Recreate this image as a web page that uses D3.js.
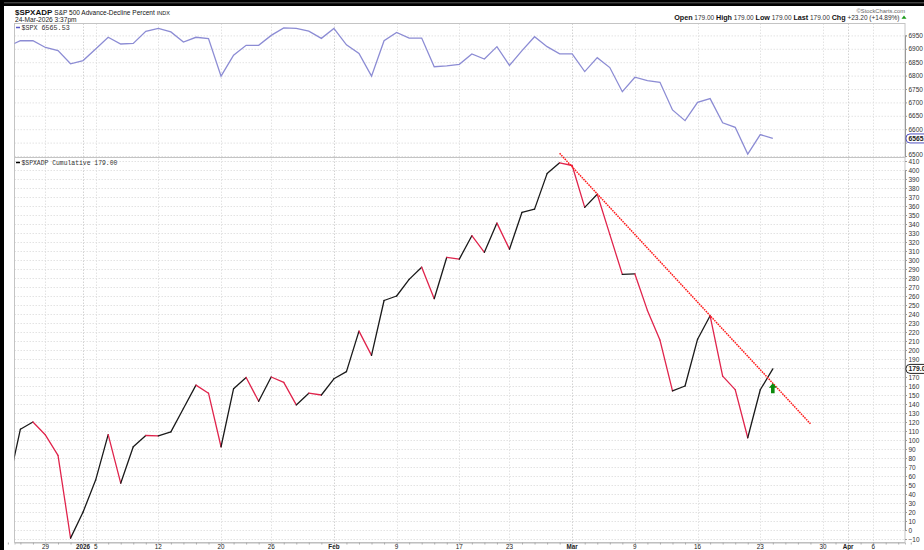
<!DOCTYPE html>
<html>
<head>
<meta charset="utf-8">
<script src="https://cdn.jsdelivr.net/npm/d3@7"></script>
<style>
  body { margin: 0; background: #fff; }
  svg { display: block; font-family: "Liberation Sans", Arial, sans-serif; }
</style>
</head>
<body>
<div id="chart"></div>
<script>
// trading days shown on the axis (holidays skipped)
const days = [
  "Dec 23","Dec 24","Dec 26","Dec 29","Dec 30","Dec 31",
  "Jan 2","Jan 5","Jan 6","Jan 7","Jan 8","Jan 9","Jan 12","Jan 13","Jan 14","Jan 15","Jan 16",
  "Jan 20","Jan 21","Jan 22","Jan 23","Jan 26","Jan 27","Jan 28","Jan 29","Jan 30",
  "Feb 2","Feb 3","Feb 4","Feb 5","Feb 6","Feb 9","Feb 10","Feb 11","Feb 12","Feb 13",
  "Feb 17","Feb 18","Feb 19","Feb 20","Feb 23","Feb 24","Feb 25","Feb 26","Feb 27",
  "Mar 2","Mar 3","Mar 4","Mar 5","Mar 6","Mar 9","Mar 10","Mar 11","Mar 12","Mar 13",
  "Mar 16","Mar 17","Mar 18","Mar 19","Mar 20","Mar 23","Mar 24","Mar 25","Mar 26","Mar 27",
  "Mar 30","Mar 31","Apr 1","Apr 2","Apr 6","Apr 7","Apr 8","Apr 9"
];

// $SPXADP cumulative, one value per day from Dec 23
const adp = [
  48, 112, 120, 105.5, 83, -9,
  20, 55.5, 106, 52, 92.5, 105, 104.5, 109, 135, 161, 152,
  92.5, 157, 169.5, 143, 170, 164, 139, 152, 150,
  168, 176, 221, 194, 255, 260, 278.5, 292, 257, 303,
  301, 327, 308.5, 341, 312, 353, 356.5, 396, 408,
  405, 358.5, 373, 328.5, 284, 284.5, 244, 211, 154.5, 160,
  212, 238, 171, 156, 102.5, 155.8, 179
];

// $SPX close, same days
const spx = [
  6909, 6930, 6930, 6905, 6893, 6844,
  6856, 6899, 6943, 6918, 6920, 6965, 6976, 6963, 6925, 6943, 6938,
  6798, 6876, 6913, 6913, 6950, 6978, 6976, 6966, 6939,
  6976, 6915, 6883, 6798, 6930, 6961, 6940, 6940, 6833, 6836,
  6842, 6881, 6862, 6908, 6838, 6893, 6945, 6908, 6881,
  6881, 6815, 6867, 6830, 6740, 6794, 6781, 6775, 6672, 6632,
  6700, 6714, 6624, 6607, 6507, 6580, 6565.53
];

const axisDays   = ["Dec 29","Jan 2","Jan 5","Jan 12","Jan 20","Jan 26","Feb 2","Feb 9","Feb 17","Feb 23","Mar 2","Mar 9","Mar 16","Mar 23","Mar 30","Apr 1","Apr 6"];
const axisLabels = ["29","2026","5","12","20","26","Feb","9","17","23","Mar","9","16","23","30","Apr","6"];
const boldLabels = ["2026","Feb","Mar","Apr"];

const spxTicks = d3.range(6500, 6951, 50);
const adpTicks = d3.range(-10, 411, 10);

// hand-drawn annotations
const trendDays = ["Feb 27", "Mar 27"];
const trendVals = [418.5, 118];
const arrowDay = "Mar 24";
const arrowVal = 157;

const W = 924, H = 550;
const left = 14.5, right = 905;
const top1 = 23.5, bot1 = 157.5, bot2 = 542.5;

const svg = d3.select("#chart").append("svg").attr("width", W).attr("height", H);

const x = d3.scaleLinear().domain([0.53, 71.54]).range([left, right]);
const xd = d => x(days.indexOf(d));
const y1 = d3.scaleLinear().domain([6500, 6950]).range([156, 35.4]);
const y2 = d3.scaleLinear().domain([0, 400]).range([530, 170]);

const lastAdp = adp[adp.length - 1], lastSpx = spx[spx.length - 1];

const defs = svg.append("defs");
defs.append("clipPath").attr("id", "c1").append("rect")
  .attr("x", left).attr("y", top1).attr("width", right - left).attr("height", bot1 - top1);
defs.append("clipPath").attr("id", "c2").append("rect")
  .attr("x", left).attr("y", bot1).attr("width", right - left).attr("height", bot2 - bot1);

// grids
const grid = svg.append("g").attr("stroke", "#dcdcdc").attr("stroke-width", 0.8).attr("stroke-dasharray", "1.5,1.5");
grid.selectAll(".h1").data(spxTicks).join("line")
  .attr("x1", left).attr("x2", right).attr("y1", d => y1(d) + 0.5).attr("y2", d => y1(d) + 0.5);
grid.selectAll(".h2").data(adpTicks).join("line")
  .attr("x1", left).attr("x2", right).attr("y1", d => y2(d) + 0.5).attr("y2", d => y2(d) + 0.5);
grid.selectAll(".v").data(axisDays).join("line")
  .attr("x1", d => Math.round(xd(d)) + 0.5).attr("x2", d => Math.round(xd(d)) + 0.5)
  .attr("y1", top1).attr("y2", bot2)
  .attr("stroke", d => boldLabels.includes(axisLabels[axisDays.indexOf(d)]) ? "#c8c8c8" : "#dcdcdc");

// panel frames
const frame = svg.append("g").attr("fill", "none").attr("stroke", "#c4c4c4").attr("stroke-width", 1);
frame.append("rect").attr("x", left).attr("y", top1).attr("width", right - left).attr("height", bot1 - top1);
frame.append("rect").attr("x", left).attr("y", bot1).attr("width", right - left).attr("height", bot2 - bot1);

// SPX line
svg.append("path")
  .attr("clip-path", "url(#c1)")
  .attr("d", d3.line().x((d, i) => x(i)).y(d => y1(d))(spx))
  .attr("fill", "none").attr("stroke", "#8c8cd4").attr("stroke-width", 1.3);

// ADP line, black when rising, red when falling
svg.append("g").attr("clip-path", "url(#c2)")
  .selectAll("line").data(d3.pairs(adp.map((v, i) => [i, v]))).join("line")
  .attr("x1", d => x(d[0][0])).attr("y1", d => y2(d[0][1]))
  .attr("x2", d => x(d[1][0])).attr("y2", d => y2(d[1][1]))
  .attr("stroke", d => d[1][1] >= d[0][1] ? "#1a1a1a" : "#e0244c")
  .attr("stroke-width", 1.3).attr("stroke-linecap", "round");

// trendline
svg.append("line")
  .attr("x1", xd(trendDays[0])).attr("y1", y2(trendVals[0]))
  .attr("x2", xd(trendDays[1])).attr("y2", y2(trendVals[1]))
  .attr("stroke", "#ff1a1a").attr("stroke-width", 1.5).attr("stroke-dasharray", "1.6,0.9");

// green arrow
const ax = xd(arrowDay), ay = y2(arrowVal);
svg.append("path")
  .attr("d", `M${ax},${ay - 5.5} L${ax + 4},${ay - 1} L${ax + 1.8},${ay - 1} L${ax + 1.8},${ay + 4.5} L${ax - 1.8},${ay + 4.5} L${ax - 1.8},${ay - 1} L${ax - 4},${ay - 1}Z`)
  .attr("fill", "#0c8a0c");

// right axes (labels hidden behind the last-value tags are left out)
const fmt1 = d => Math.abs(y1(d) - y1(lastSpx)) < 6 ? "" : d3.format("d")(d);
const fmt2 = d => Math.abs(y2(d) - y2(lastAdp)) < 6 ? "" : d3.format("d")(d);
const yAx1 = svg.append("g").attr("transform", `translate(${right},0)`)
  .call(d3.axisRight(y1).tickValues(spxTicks).tickSize(2).tickPadding(1.5).tickFormat(fmt1));
const yAx2 = svg.append("g").attr("transform", `translate(${right},0)`)
  .call(d3.axisRight(y2).tickValues(adpTicks).tickSize(2).tickPadding(1.5).tickFormat(fmt2));
[yAx1, yAx2].forEach(g => {
  g.select(".domain").attr("stroke", "#999");
  g.selectAll(".tick line").attr("stroke", "#999");
  g.selectAll("text").attr("font-size", 6.5).attr("fill", "#333").attr("font-family", "Liberation Sans, Arial");
});
yAx1.selectAll(".tick text").filter(d => d === 6500).attr("dy", "0.1em");
yAx2.selectAll(".tick text").filter(d => d === 410).attr("dy", "0.45em");

// x axis
const xAx = svg.append("g").attr("transform", `translate(0,${bot2})`)
  .call(d3.axisBottom(x).tickValues(days.map((d, i) => i)).tickSize(2).tickFormat(""));
xAx.select(".domain").attr("stroke", "#bbb");
xAx.selectAll(".tick line").attr("stroke", "#aaa");
svg.append("g").selectAll("text").data(axisDays).join("text")
  .attr("x", d => xd(d)).attr("y", 548.8)
  .attr("text-anchor", "middle").attr("font-size", 6.3).attr("fill", "#222")
  .attr("font-weight", (d, i) => boldLabels.includes(axisLabels[i]) ? "bold" : null)
  .text((d, i) => axisLabels[i]);

// last value tags on the right (cut by the window edge, as in the source)
function tag(yv, txt, col) {
  const g = svg.append("g");
  g.append("rect").attr("x", right + 1).attr("y", yv - 4.5).attr("width", 30).attr("height", 9)
    .attr("rx", 4).attr("fill", "#fff").attr("stroke", col).attr("stroke-width", 1);
  g.append("text").attr("x", right + 3.5).attr("y", yv + 2.4).attr("font-size", 6.8)
    .attr("font-weight", "bold").attr("fill", "#222").text(txt);
}
tag(y2(lastAdp), "179.00", "#222");
tag(y1(lastSpx), "6565.53", "#5050c0");

// legends
const mono = "Liberation Mono, DejaVu Sans Mono, monospace";
svg.append("line").attr("x1", 16).attr("x2", 20).attr("y1", 27.5).attr("y2", 27.5).attr("stroke", "#5a5ac8").attr("stroke-width", 1.5);
svg.append("text").attr("x", 21.5).attr("y", 29.8).attr("font-size", 6.7).attr("font-family", mono).attr("fill", "#333").text("$SPX 6565.53");
svg.append("line").attr("x1", 16).attr("x2", 20).attr("y1", 162.5).attr("y2", 162.5).attr("stroke", "#000").attr("stroke-width", 1.5);
svg.append("text").attr("x", 21.5).attr("y", 164.8).attr("font-size", 6.4).attr("font-family", mono).attr("fill", "#333").text("$SPXADP Cumulative 179.00");

// header
const h = svg.append("text").attr("x", 15).attr("y", 15).attr("fill", "#111");
h.append("tspan").attr("font-size", 8).attr("font-weight", "bold").text("$SPXADP");
h.append("tspan").attr("dx", 2).attr("font-size", 6.5).text("S&P 500 Advance-Decline Percent");
h.append("tspan").attr("dx", 2).attr("font-size", 5.5).text("INDX");
svg.append("text").attr("x", 15).attr("y", 21.8).attr("font-size", 6.6).attr("fill", "#222").text("24-Mar-2026 3:37pm");

svg.append("text").attr("x", 905).attr("y", 13).attr("text-anchor", "end")
  .attr("font-size", 5.8).attr("fill", "#666").text("©StockCharts.com");
const q = svg.append("text").attr("x", 899.5).attr("y", 19.5).attr("text-anchor", "end").attr("font-size", 6.5).attr("fill", "#333");
[["Open", " 179.00 "], ["High", " 179.00 "], ["Low", " 179.00 "], ["Last", " 179.00 "], ["Chg", " +23.20 (+14.89%)"]].forEach(([k, v]) => {
  q.append("tspan").attr("font-weight", "bold").attr("fill", "#111").attr("font-size", 7.2).text(k);
  q.append("tspan").attr("xml:space", "preserve").text(v);
});
svg.append("path").attr("d", "M901.5,18.8 L906.5,18.8 L904,15.6Z").attr("fill", "#1a9a1a");

// outer black frame (window edge)
svg.append("rect").attr("x", 0).attr("y", 0).attr("width", W).attr("height", 6).attr("fill", "#000");
svg.append("line").attr("x1", 0).attr("x2", W).attr("y1", 2.8).attr("y2", 2.8).attr("stroke", "#777").attr("stroke-width", 0.8);
svg.append("rect").attr("x", 0).attr("y", 0).attr("width", 4).attr("height", H).attr("fill", "#000");
</script>
</body>
</html>
